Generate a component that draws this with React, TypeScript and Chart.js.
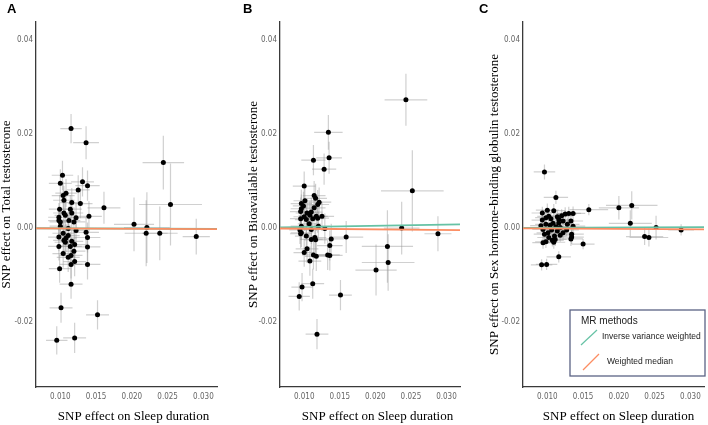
import { useEffect, useRef } from "react"
import { Chart, registerables } from "chart.js"

Chart.register(...registerables)

// shared axes
const X_MIN = 0.0066
const X_MAX = 0.0319
const Y_MIN = -0.0337
const Y_MAX = 0.0437
const xTicks = [0.01, 0.015, 0.02, 0.025, 0.03]
const yTicks = [-0.02, 0, 0.02, 0.04]
const xTitle = "SNP effect on Sleep duration"

const methods = ["Inverse variance weighted", "Weighted median"]
const methodColors = ["#66c2a5", "#fc8d62"]

// A: total testosterone
const sleepA = [
  0.0115, 0.0136, 0.0103, 0.01, 0.0131, 0.0138, 0.0108, 0.0104, 0.0125, 0.0105,
  0.0116, 0.0128, 0.0161, 0.0099, 0.0114, 0.014, 0.0105, 0.0116, 0.0122, 0.0098,
  0.01, 0.0112, 0.0107, 0.0098, 0.0119, 0.01, 0.0111, 0.0122, 0.0136, 0.0104,
  0.0108, 0.0111, 0.0116, 0.012, 0.0098, 0.0105, 0.0138, 0.0098, 0.0107, 0.0114,
  0.0138, 0.0104, 0.0111, 0.0115, 0.0119, 0.012, 0.0115, 0.0138, 0.0099, 0.0115,
  0.0101, 0.0152, 0.012, 0.0095, 0.0203, 0.0221, 0.022, 0.0239, 0.029, 0.0254, 0.0244,
]
const totalT = [
  0.0211, 0.0181, 0.0112, 0.0095, 0.0098, 0.009, 0.0074, 0.0069, 0.0081, 0.0059,
  0.0054, 0.0052, 0.0043, 0.004, 0.004, 0.0025, 0.0032, 0.0032, 0.0022, 0.0016,
  0.0013, 0.0016, 0.0027, 0.0023, 0.0013, 0.0004, -0.0001, -0.0005, -0.0009, -0.0011,
  -0.0021, -0.0016, -0.0028, -0.0035, -0.0019, -0.0026, -0.002, -0.0039, -0.003, -0.0039,
  -0.004, -0.0054, -0.0062, -0.0058, -0.0049, -0.0071, -0.0077, -0.0077, -0.0086, -0.0119,
  -0.0169, -0.0184, -0.0233, -0.0238, 0.0008, 0.0001, -0.0011, -0.0011, -0.0018, 0.005, 0.0139,
]
const sleepSeA = [
  0.0015, 0.0018, 0.0015, 0.0016, 0.0016, 0.0017, 0.0015, 0.0016, 0.0016, 0.0015,
  0.0016, 0.0017, 0.0023, 0.0015, 0.0016, 0.0018, 0.0015, 0.0016, 0.0016, 0.0015,
  0.0015, 0.0016, 0.0015, 0.0015, 0.0016, 0.0015, 0.0016, 0.0016, 0.0018, 0.0015,
  0.0015, 0.0016, 0.0016, 0.0016, 0.0015, 0.0015, 0.0018, 0.0015, 0.0015, 0.0016,
  0.0018, 0.0015, 0.0016, 0.0016, 0.0016, 0.0016, 0.0016, 0.0018, 0.0015, 0.0016,
  0.0016, 0.0016, 0.0016, 0.0015, 0.0028, 0.0032, 0.003, 0.0025, 0.0019, 0.0044, 0.0029,
]
const totalTSe = [
  0.0031, 0.0035, 0.0031, 0.003, 0.0031, 0.0032, 0.003, 0.003, 0.0031, 0.003,
  0.0031, 0.0031, 0.0034, 0.003, 0.003, 0.0032, 0.003, 0.003, 0.0031, 0.003,
  0.003, 0.003, 0.003, 0.003, 0.0031, 0.003, 0.003, 0.0031, 0.0032, 0.003,
  0.003, 0.003, 0.0031, 0.0031, 0.003, 0.003, 0.0032, 0.003, 0.003, 0.003,
  0.0032, 0.003, 0.0031, 0.003, 0.0031, 0.0031, 0.003, 0.0032, 0.003, 0.0031,
  0.0032, 0.0031, 0.0032, 0.003, 0.0057, 0.0075, 0.007, 0.0057, 0.0038, 0.0087, 0.0057,
]

// B: bioavailable testosterone
const sleepB = [
  0.0243, 0.0134, 0.0135, 0.0113, 0.0128, 0.01, 0.0252, 0.0114, 0.0116, 0.0101,
  0.0121, 0.0096, 0.0099, 0.0119, 0.0114, 0.0096, 0.0104, 0.0095, 0.011, 0.0117,
  0.01, 0.0125, 0.0103, 0.0112, 0.0095, 0.0119, 0.0108, 0.0107, 0.012, 0.0129,
  0.0094, 0.011, 0.0095, 0.0103, 0.0115, 0.0138, 0.0159, 0.0096, 0.011, 0.0116,
  0.0104, 0.0136, 0.01, 0.0133, 0.0136, 0.0113, 0.0117, 0.0108, 0.0112, 0.0097,
  0.0093, 0.0151, 0.0118, 0.0201, 0.0217, 0.0218, 0.0237, 0.0288, 0.0096,
]
const bioT = [
  0.0272, 0.0203, 0.0149, 0.0144, 0.0125, 0.0089, 0.0079, 0.0069, 0.0063, 0.0058,
  0.0055, 0.0052, 0.0047, 0.005, 0.0043, 0.0041, 0.0032, 0.0035, 0.0034, 0.0025,
  0.0024, 0.0025, 0.0018, 0.002, 0.002, 0.0021, 0.0027, 0.0009, 0.0004, -0.0001,
  -0.0004, -0.0003, -0.0012, -0.0017, -0.002, -0.0023, -0.0019, -0.001, -0.0024, -0.0025,
  -0.0044, -0.0037, -0.0052, -0.0057, -0.0058, -0.0057, -0.006, -0.007, -0.0118, -0.0125,
  -0.0145, -0.0142, -0.0225, -0.0089, -0.0039, -0.0073, 0.0, -0.0012, 0.0004,
]
const sleepSeB = [
  0.003, 0.002, 0.0018, 0.0017, 0.0017, 0.0016, 0.0044, 0.0016, 0.0016, 0.0016,
  0.0017, 0.0015, 0.0015, 0.0016, 0.0016, 0.0015, 0.0016, 0.0015, 0.0016, 0.0016,
  0.0015, 0.0017, 0.0016, 0.0016, 0.0015, 0.0016, 0.0016, 0.0016, 0.0016, 0.0017,
  0.0015, 0.0016, 0.0015, 0.0016, 0.0016, 0.0018, 0.0024, 0.0015, 0.0016, 0.0016,
  0.0016, 0.0018, 0.0015, 0.0017, 0.0018, 0.0016, 0.0016, 0.0016, 0.0016, 0.0015,
  0.0015, 0.0016, 0.0016, 0.0029, 0.0036, 0.0037, 0.0025, 0.0019, 0.0015,
]
const bioTSe = [
  0.0055, 0.0037, 0.0034, 0.0032, 0.0033, 0.0031, 0.0086, 0.0031, 0.0031, 0.003,
  0.0031, 0.003, 0.003, 0.0031, 0.0031, 0.003, 0.003, 0.003, 0.0031, 0.0031,
  0.003, 0.0031, 0.003, 0.0031, 0.003, 0.0031, 0.003, 0.003, 0.0031, 0.0032,
  0.003, 0.0031, 0.003, 0.003, 0.0031, 0.0032, 0.0034, 0.003, 0.0031, 0.0031,
  0.003, 0.0032, 0.003, 0.0032, 0.0032, 0.0031, 0.0031, 0.0031, 0.0032, 0.003,
  0.003, 0.0032, 0.0032, 0.0054, 0.0077, 0.006, 0.0056, 0.0037, 0.003,
]

// C: sex hormone-binding globulin
const sleepC = [
  0.0096, 0.0112, 0.02, 0.0218, 0.0158, 0.0216, 0.0252, 0.0236, 0.0242, 0.0287,
  0.015, 0.0116, 0.0092, 0.0099, 0.01, 0.0109, 0.013, 0.0125, 0.0136, 0.0093,
  0.0102, 0.0114, 0.0105, 0.0116, 0.0133, 0.0093, 0.0122, 0.0098, 0.0108, 0.0128,
  0.0136, 0.0118, 0.0094, 0.0106, 0.0114, 0.0101, 0.0122, 0.0134, 0.0096, 0.011,
  0.0118, 0.0102, 0.0134, 0.0111, 0.0094, 0.0098, 0.0109, 0.0133, 0.0098, 0.0112,
  0.0104, 0.0127, 0.012, 0.0107, 0.0116, 0.0091,
]
const shbgT = [
  0.0119, 0.0065, 0.0043, 0.0048, 0.0039, 0.001, 0.0001, -0.0018, -0.002, -0.0004,
  -0.0034, -0.0061, -0.0078, -0.0077, 0.0038, 0.0037, 0.0031, 0.003, 0.0031, 0.0032,
  0.0025, 0.0024, 0.002, 0.0018, 0.0015, 0.0017, 0.0015, 0.0008, 0.001, 0.0008,
  0.0004, 0.0001, -0.0003, -0.0004, -0.0006, -0.001, -0.001, -0.0013, -0.0013, -0.0017,
  -0.0015, -0.002, -0.0019, -0.0024, -0.0031, -0.0029, -0.003, -0.0023, 0.0022, 0.0003,
  0.0006, -0.0004, 0.0026, -0.0026, 0.0011, 0.0005,
]
const sleepSeC = [
  0.0015, 0.0017, 0.0028, 0.0036, 0.0027, 0.003, 0.004, 0.0026, 0.0027, 0.0018,
  0.0016, 0.0017, 0.0015, 0.0015, 0.0016, 0.0016, 0.0017, 0.0016, 0.0017, 0.0015,
  0.0016, 0.0016, 0.0016, 0.0016, 0.0017, 0.0015, 0.0016, 0.0015, 0.0016, 0.0017,
  0.0017, 0.0016, 0.0015, 0.0016, 0.0016, 0.0016, 0.0016, 0.0017, 0.0015, 0.0016,
  0.0016, 0.0016, 0.0017, 0.0016, 0.0015, 0.0015, 0.0016, 0.0017, 0.0015, 0.0016,
  0.0016, 0.0017, 0.0016, 0.0016, 0.0016, 0.0015,
]
const shbgTSe = [
  0.0016, 0.0014, 0.0025, 0.003, 0.0012, 0.0028, 0.0025, 0.0018, 0.0019, 0.0012,
  0.0011, 0.0012, 0.0012, 0.0012, 0.0014, 0.0014, 0.0014, 0.0014, 0.0015, 0.0013,
  0.0014, 0.0014, 0.0014, 0.0014, 0.0015, 0.0013, 0.0014, 0.0013, 0.0014, 0.0014,
  0.0015, 0.0014, 0.0013, 0.0014, 0.0014, 0.0013, 0.0014, 0.0015, 0.0013, 0.0014,
  0.0014, 0.0013, 0.0015, 0.0014, 0.0013, 0.0013, 0.0014, 0.0015, 0.0013, 0.0014,
  0.0013, 0.0014, 0.0014, 0.0013, 0.0014, 0.0013,
]

// MR slopes [IVW, weighted median]
const slopesA = [-0.005, -0.0067]
const slopesB = [0.024, -0.013]
const slopesC = [0.007, -0.009]

const tickFont = {
  family: "'Liberation Sans Narrow', 'DejaVu Sans Condensed', 'Liberation Sans', sans-serif",
  size: 8,
}

// grey SE whiskers under the points
const errorBars = {
  id: "errorBars",
  beforeDatasetsDraw(chart: any) {
    const { ctx, chartArea, scales } = chart
    const ds = chart.data.datasets.find((d: any) => d.xse)
    if (!ds) return
    ctx.save()
    ctx.beginPath()
    ctx.rect(chartArea.left, chartArea.top, chartArea.width, chartArea.height)
    ctx.clip()
    ctx.strokeStyle = "rgba(150,150,150,0.45)"
    ctx.lineWidth = 1.2
    ds.data.forEach((p: any, i: number) => {
      const px = scales.x.getPixelForValue(p.x)
      const py = scales.y.getPixelForValue(p.y)
      ctx.beginPath()
      ctx.moveTo(scales.x.getPixelForValue(p.x - ds.xse[i]), py)
      ctx.lineTo(scales.x.getPixelForValue(p.x + ds.xse[i]), py)
      ctx.moveTo(px, scales.y.getPixelForValue(p.y - ds.yse[i]))
      ctx.lineTo(px, scales.y.getPixelForValue(p.y + ds.yse[i]))
      ctx.stroke()
    })
    ctx.restore()
  },
}

// panel letter, x title and (panel C) the MR legend box
const panelText = {
  id: "panelText",
  afterDraw(chart: any, _args: any, opts: any) {
    const { ctx, chartArea } = chart
    ctx.save()
    ctx.fillStyle = "#000"
    ctx.font = "bold 13px 'Liberation Sans', Arial, sans-serif"
    ctx.textBaseline = "alphabetic"
    ctx.textAlign = "left"
    ctx.fillText(opts.letter, 7, 13)

    ctx.font = "13px 'Liberation Serif', 'Times New Roman', serif"
    ctx.textAlign = "center"
    ctx.textBaseline = "middle"
    ctx.fillText(xTitle, (chartArea.left + chartArea.right) / 2 + opts.titleShift, 417)

    if (opts.legend) {
      ctx.fillStyle = "#fff"
      ctx.fillRect(98, 310, 135, 66)
      ctx.strokeStyle = "#5b6384"
      ctx.lineWidth = 1.3
      ctx.strokeRect(98, 310, 135, 66)
      ctx.fillStyle = "#222"
      ctx.textAlign = "left"
      ctx.font = "10px 'Liberation Sans', Arial, sans-serif"
      ctx.fillText("MR methods", 109, 321)
      ctx.font = "8.5px 'Liberation Sans', Arial, sans-serif"
      ctx.fillText(methods[0], 130, 337)
      ctx.fillText(methods[1], 135, 362)
      ctx.lineWidth = 1.2
      ctx.strokeStyle = methodColors[0]
      ctx.beginPath()
      ctx.moveTo(109, 345)
      ctx.lineTo(125, 330)
      ctx.stroke()
      ctx.strokeStyle = methodColors[1]
      ctx.beginPath()
      ctx.moveTo(111, 370)
      ctx.lineTo(127, 354)
      ctx.stroke()
    }
    ctx.restore()
  },
}

interface PanelProps {
  left: number
  axisLeft: number
  padRight: number
  titlePad: number
  titleShift: number
  letter: string
  yTitle: string
  xs: number[]
  ys: number[]
  xse: number[]
  yse: number[]
  slopes: number[]
  legend?: boolean
}

function ScatterPanel(props: PanelProps) {
  const canvasRef = useRef<HTMLCanvasElement>(null)

  useEffect(() => {
    if (!canvasRef.current) return
    const line = (b: number) => [
      { x: X_MIN, y: b * X_MIN },
      { x: X_MAX, y: b * X_MAX },
    ]
    const chart = new Chart(canvasRef.current, {
      type: "scatter",
      data: {
        datasets: [
          {
            label: methods[1],
            data: line(props.slopes[1]),
            showLine: true,
            borderColor: methodColors[1],
            borderWidth: 1.8,
            pointRadius: 0,
          },
          {
            label: methods[0],
            data: line(props.slopes[0]),
            showLine: true,
            borderColor: methodColors[0],
            borderWidth: 1.8,
            pointRadius: 0,
          },
          {
            label: "SNPs",
            data: props.xs.map((x, i) => ({ x, y: props.ys[i] })),
            backgroundColor: "#000",
            borderWidth: 0,
            pointRadius: 2.5,
            xse: props.xse,
            yse: props.yse,
          } as any,
        ],
      },
      options: {
        responsive: false,
        animation: false,
        layout: { padding: { left: 0, top: 22, right: props.padRight, bottom: 0 } },
        plugins: {
          legend: { display: false },
          tooltip: { enabled: false },
          panelText: { letter: props.letter, titleShift: props.titleShift, legend: !!props.legend },
        } as any,
        scales: {
          x: {
            type: "linear",
            min: X_MIN,
            max: X_MAX,
            afterBuildTicks: (s: any) => {
              s.ticks = xTicks.map((v) => ({ value: v }))
            },
            afterFit: (s: any) => {
              s.height = 38
            },
            grid: { display: false, drawTicks: false },
            border: { display: true, color: "#3a3a3a", width: 1.3 },
            ticks: {
              padding: 5,
              color: "#666",
              font: tickFont,
              maxRotation: 0,
              callback: (v) => Number(v).toFixed(3),
            },
          },
          y: {
            type: "linear",
            min: Y_MIN,
            max: Y_MAX,
            afterBuildTicks: (s: any) => {
              s.ticks = yTicks.map((v) => ({ value: v }))
            },
            afterFit: (s: any) => {
              s.width = props.axisLeft
            },
            grid: { display: false, drawTicks: false },
            border: { display: true, color: "#3a3a3a", width: 1.3 },
            ticks: {
              padding: 3,
              color: "#666",
              font: tickFont,
              callback: (v) => Number(v).toFixed(2),
            },
            title: {
              display: true,
              text: props.yTitle,
              color: "#000",
              font: { family: "'Liberation Serif', 'Times New Roman', serif", size: 13, lineHeight: 1 },
              padding: { top: props.titlePad, bottom: 0 },
            },
          },
        },
      },
      plugins: [errorBars, panelText],
    })
    return () => chart.destroy()
  }, [props])

  return (
    <canvas
      ref={canvasRef}
      width={236}
      height={425}
      style={{ position: "absolute", left: props.left, top: 0, width: 236, height: 425 }}
    />
  )
}

export default function App() {
  return (
    <div style={{ position: "absolute", left: 0, top: 0, width: 708, height: 425, background: "#fff" }}>
      <ScatterPanel
        left={0}
        axisLeft={36}
        padRight={19}
        titlePad={0.5}
        titleShift={7}
        letter="A"
        yTitle="SNP effect on Total testosterone"
        xs={sleepA}
        ys={totalT}
        xse={sleepSeA}
        yse={totalTSe}
        slopes={slopesA}
      />
      <ScatterPanel
        left={236}
        axisLeft={44}
        padRight={12}
        titlePad={11.5}
        titleShift={7.5}
        letter="B"
        yTitle="SNP effect on Bioavailable testosterone"
        xs={sleepB}
        ys={bioT}
        xse={sleepSeB}
        yse={bioTSe}
        slopes={slopesB}
      />
      <ScatterPanel
        left={472}
        axisLeft={51}
        padRight={4}
        titlePad={16.5}
        titleShift={5}
        letter="C"
        yTitle="SNP effect on Sex hormone-binding globulin testosterone"
        xs={sleepC}
        ys={shbgT}
        xse={sleepSeC}
        yse={shbgTSe}
        slopes={slopesC}
        legend
      />
    </div>
  )
}
